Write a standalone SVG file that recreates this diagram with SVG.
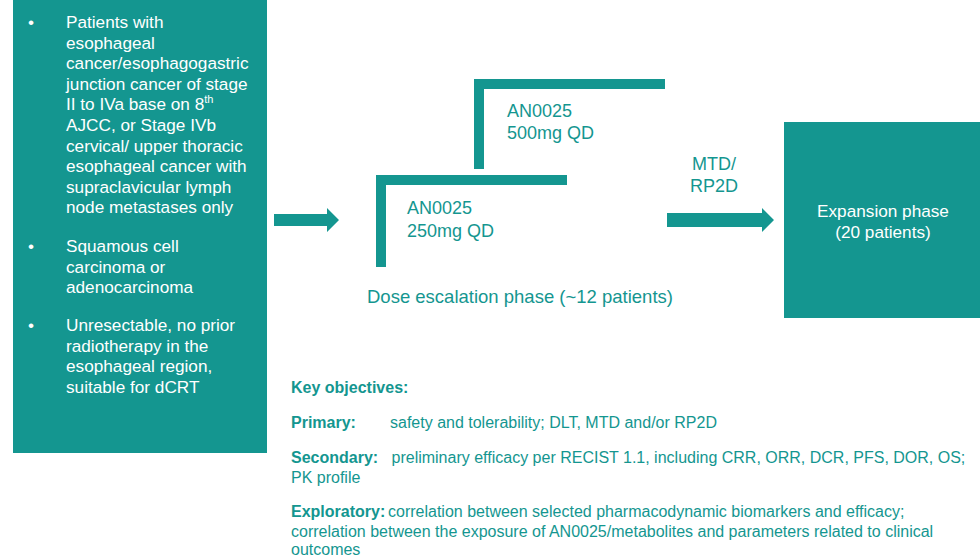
<svg xmlns="http://www.w3.org/2000/svg" width="980" height="557" viewBox="0 0 980 557">
<style>
.fill{fill:#149690}
.wt{fill:#ffffff;font-family:"Liberation Sans",Arial,sans-serif;font-size:17.2px}
.tt{fill:#149690;font-family:"Liberation Sans",Arial,sans-serif;font-size:18px}
.ot{fill:#149690;font-family:"Liberation Sans",Arial,sans-serif;font-size:16px}
.b{font-weight:bold}
</style>
<rect width="980" height="557" fill="#ffffff"/>
<g id="eligibility">
<rect class="fill" x="13" y="0" width="254" height="453"/>
<text class="wt">
<tspan x="28" y="28">•</tspan>
<tspan x="66" y="28">Patients with</tspan>
<tspan x="66" y="48.6">esophageal</tspan>
<tspan x="66" y="69.2">cancer/esophagogastric</tspan>
<tspan x="66" y="89.8">junction cancer of stage</tspan>
<tspan x="66" y="110.4">II to IVa base on 8<tspan font-size="11" dy="-7">th</tspan></tspan>
<tspan x="66" y="131">AJCC, or Stage IVb</tspan>
<tspan x="66" y="151.6">cervical/ upper thoracic</tspan>
<tspan x="66" y="172.2">esophageal cancer with</tspan>
<tspan x="66" y="192.8">supraclavicular lymph</tspan>
<tspan x="66" y="213.4">node metastases only</tspan>
<tspan x="28" y="252">•</tspan>
<tspan x="66" y="252">Squamous cell</tspan>
<tspan x="66" y="272.6">carcinoma or</tspan>
<tspan x="66" y="293.2">adenocarcinoma</tspan>
<tspan x="28" y="331">•</tspan>
<tspan x="66" y="331">Unresectable, no prior</tspan>
<tspan x="66" y="351.6">radiotherapy in the</tspan>
<tspan x="66" y="372.2">esophageal region,</tspan>
<tspan x="66" y="392.8">suitable for dCRT</tspan>
</text>
</g>
<g id="dose-escalation">
<path class="fill" d="M376,175 H567 V185 H386 V267 H376 Z"/>
<path class="fill" d="M474,79 H665 V89 H484 V169 H474 Z"/>
<text class="tt" x="407" y="214">AN0025</text>
<text class="tt" x="407" y="237">250mg QD</text>
<text class="tt" x="507" y="117">AN0025</text>
<text class="tt" x="507" y="139">500mg QD</text>
<text class="tt" x="367" y="303" style="font-size:18.5px">Dose escalation phase (~12 patients)</text>
</g>
<g id="expansion">
<rect class="fill" x="784" y="122" width="196" height="196"/>
<text class="wt" text-anchor="middle" x="883" y="217">Expansion phase</text>
<text class="wt" text-anchor="middle" x="883" y="238">(20 patients)</text>
</g>
<g id="connectors">
<polygon class="fill" points="274,214 327,214 327,208 339,220 327,232 327,226 274,226"/>
<polygon class="fill" points="667,213 762,213 762,208 774,220 762,232 762,227 667,227"/>
<text class="tt" text-anchor="middle" x="714" y="170">MTD/</text>
<text class="tt" text-anchor="middle" x="714" y="192">RP2D</text>
</g>
<g id="objectives">
<text class="ot b" x="291" y="392.5">Key objectives:</text>
<text class="ot b" x="291" y="428.3">Primary:</text>
<text class="ot" x="390" y="428.3">safety and tolerability; DLT, MTD and/or RP2D</text>
<text class="ot b" x="291" y="463.3">Secondary:</text>
<text class="ot" x="391.5" y="463.3">preliminary efficacy per RECIST 1.1, including CRR, ORR, DCR, PFS, DOR, OS;</text>
<text class="ot" x="291" y="482.7">PK profile</text>
<text class="ot b" x="291" y="517.3">Exploratory:</text>
<text class="ot" x="388" y="517.3">correlation between selected pharmacodynamic biomarkers and efficacy;</text>
<text class="ot" x="291" y="536.7">correlation between the exposure of AN0025/metabolites and parameters related to clinical</text>
<text class="ot" x="291" y="555">outcomes</text>
</g>
</svg>
